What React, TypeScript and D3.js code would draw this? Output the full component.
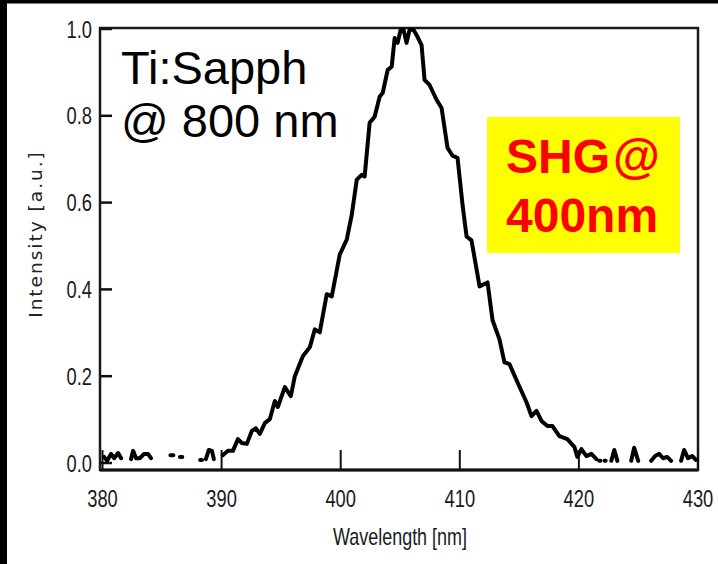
import React from "react";
import * as d3 from "d3";

// Spectrum data (null = gap in trace)
const wavelength: (number | null)[] = [
  380.13, 380.39, 380.72, 380.97, 381.31, 381.56, null,
  382.40, 382.57, 382.82, 383.15, 383.49, 383.82, 384.07, null,
  385.70, 385.95, null,
  386.50, 386.70, null,
  388.20, 388.35, null,
  388.68, 388.93, 389.19, 389.35, null,
  390.10, 390.53, 390.95, 391.37, 391.70, 392.12, 392.54, 392.88, 393.21, 393.63,
  394.05, 394.47, 394.72, 395.31, 395.81, 396.15, 396.82, 397.41, 397.83, 398.24,
  398.83, 399.25, 399.92, 400.51, 400.93, 401.35, 401.76, 402.01, 402.43, 402.85,
  403.27, 403.53, 403.95, 404.28, 404.53, 404.78, 405.03, 405.28, 405.53, 405.78,
  406.12, 406.45, 406.79, 407.04, 407.46, 408.05, 408.47, 408.97, 409.39, 409.81,
  410.23, 410.57, 410.98, 411.66, 412.33, 412.75, 413.33, 413.75, 414.17, 414.84,
  415.60, 416.02, 416.44, 416.86, 417.36, 417.78, 418.36, 419.03, 419.62, 419.87,
  420.21, 420.63, 421.05, 421.47, null,
  421.70, 421.80, null,
  422.15, 422.25, null,
  422.72, 422.97, 423.23, null,
  424.39, 424.64, 424.98, null,
  426.07, 426.40, 426.74, 427.07, 427.41, 427.74, null,
  428.58, 428.83, 429.16, 429.50, 429.84,
];

const intensity: (number | null)[] = [
  0.014, 0.005, 0.021, 0.011, 0.023, 0.011, null,
  0.009, 0.028, 0.011, 0.011, 0.021, 0.021, 0.011, null,
  0.018, 0.018, null,
  0.014, 0.014, null,
  0.007, 0.007, null,
  0.009, 0.030, 0.028, 0.009, null,
  0.018, 0.028, 0.028, 0.055, 0.046, 0.044, 0.074, 0.080, 0.067, 0.092,
  0.101, 0.143, 0.129, 0.175, 0.154, 0.200, 0.246, 0.267, 0.308, 0.301,
  0.389, 0.384, 0.480, 0.515, 0.572, 0.653, 0.664, 0.660, 0.784, 0.798,
  0.844, 0.853, 0.906, 0.913, 0.979, 0.968, 0.998, 0.998, 0.968, 0.998,
  0.998, 0.982, 0.963, 0.883, 0.871, 0.837, 0.818, 0.726, 0.708, 0.703,
  0.595, 0.522, 0.513, 0.407, 0.416, 0.329, 0.285, 0.232, 0.228, 0.186,
  0.140, 0.108, 0.120, 0.097, 0.085, 0.085, 0.062, 0.055, 0.037, 0.014,
  0.032, 0.016, 0.021, 0.009, null,
  0.005, 0.005, null,
  0.005, 0.005, null,
  0.005, 0.030, 0.005, null,
  0.005, 0.035, 0.005, null,
  0.005, 0.016, 0.021, 0.011, 0.014, 0.005, null,
  0.005, 0.030, 0.011, 0.016, 0.007,
];

const xTicks = [380, 390, 400, 410, 420, 430];
const yTicks = [0.0, 0.2, 0.4, 0.6, 0.8, 1.0];
const xTitle = "Wavelength [nm]";
const yTitle = "Intensity [a.u.]";
const note1 = ["Ti:Sapph", "@ 800 nm"];
const note2 = ["SHG", "@", "400nm"];

const W = 718;
const H = 564;
const frame = { left: 100, right: 698, top: 28, bottom: 470 };
const sans = "'Liberation Sans', Arial, sans-serif";
const SQUEEZE = 0.78;

function Narrow(props: { x: number; y: number; anchor: string; size: number; children: React.ReactNode }) {
  return (
    <text
      transform={`translate(${props.x},${props.y}) scale(${SQUEEZE},1)`}
      textAnchor={props.anchor}
      fontFamily={sans}
      fontSize={props.size}
      fill="#1a1a1a"
    >
      {props.children}
    </text>
  );
}

export default function App() {
  const x = d3.scaleLinear().domain([380, 430]).range([102.5, 698]);
  const y = d3.scaleLinear().domain([0, 1]).range([463, 29]);

  const pts = wavelength.map((w, i) => [w, intensity[i]] as [number | null, number | null]);
  const line = d3
    .line<[number | null, number | null]>()
    .defined((d) => d[0] !== null && d[1] !== null)
    .x((d) => x(d[0] as number))
    .y((d) => y(d[1] as number));

  return (
    <svg
      width={W}
      height={H}
      style={{ position: "absolute", left: 0, top: 0, background: "#fff" }}
    >
      <rect x={0} y={0} width={W} height={H} fill="#fff" />
      {/* black border strips */}
      <rect x={0} y={0} width={W} height={3.5} fill="#000" />
      <rect x={0} y={0} width={7} height={H} fill="#000" />

      {/* frame */}
      <rect
        x={frame.left}
        y={frame.top}
        width={frame.right - frame.left}
        height={frame.bottom - frame.top}
        fill="none"
        stroke="#1a1a1a"
        strokeWidth={2.5}
      />
      <line x1={frame.left} x2={frame.right} y1={frame.bottom} y2={frame.bottom} stroke="#111" strokeWidth={3} />

      {/* x ticks */}
      {xTicks.map((t) => (
        <g key={"x" + t}>
          <line x1={x(t)} x2={x(t)} y1={frame.bottom} y2={frame.bottom - 20} stroke="#111" strokeWidth={2} />
          <Narrow x={x(t)} y={507} anchor="middle" size={23.5}>
            {t}
          </Narrow>
        </g>
      ))}

      {/* y ticks */}
      {yTicks.map((t) => (
        <g key={"y" + t}>
          <line x1={frame.left} x2={frame.left + 12} y1={y(t)} y2={y(t)} stroke="#111" strokeWidth={2.5} />
          <Narrow x={92} y={y(t) + 8.5} anchor="end" size={23.5}>
            {t.toFixed(1)}
          </Narrow>
        </g>
      ))}

      {/* axis titles */}
      <Narrow x={(frame.left + frame.right) / 2 + 1} y={545} anchor="middle" size={23}>
        {xTitle}
      </Narrow>
      <text
        transform={`translate(42,234) rotate(-90)`}
        textAnchor="middle"
        fontFamily="'DejaVu Sans', Verdana, sans-serif"
        fontSize={18.5}
        letterSpacing={2}
        fill="#222"
      >
        {yTitle}
      </text>

      {/* spectrum */}
      <path
        d={line(pts) || ""}
        fill="none"
        stroke="#000"
        strokeWidth={4}
        strokeLinecap="round"
        strokeLinejoin="round"
      />

      {/* annotations */}
      <text fontFamily={sans} fontSize={47} fill="#000">
        <tspan x={121} y={84}>{note1[0]}</tspan>
        <tspan x={121} y={137}>{note1[1]}</tspan>
      </text>

      <rect x={487} y={117} width={193} height={136} fill="#ffff00" />
      <text fontFamily={sans} fontSize={48} fontWeight="bold" fill="#ff0000">
        <tspan x={506} y={173}>{note2[0]}</tspan>
        <tspan dx={3}>{note2[1]}</tspan>
        <tspan x={506} y={232}>{note2[2]}</tspan>
      </text>
    </svg>
  );
}
